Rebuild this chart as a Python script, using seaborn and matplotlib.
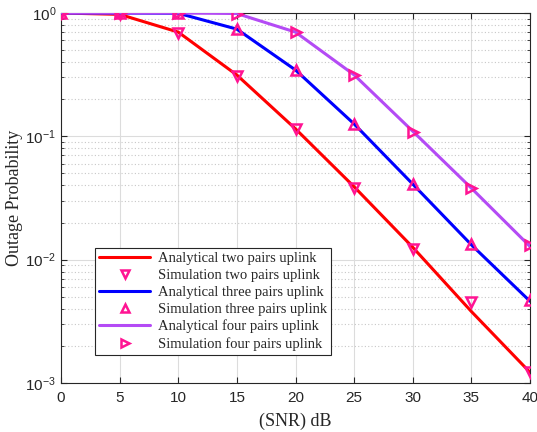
import numpy as np
import pandas as pd
import matplotlib
matplotlib.use("Agg")
import matplotlib.pyplot as plt
import seaborn as sns

snr = [0, 5, 10, 15, 20, 25, 30, 35, 40]
ana_two = [1.0, 0.975, 0.70, 0.314, 0.115, 0.039, 0.0126, 0.0038, 0.00122]
sim_two = [1.0, 0.975, 0.69, 0.31, 0.114, 0.038, 0.0121, 0.0045, 0.00122]
ana_three = [1.0, 1.0, 0.995, 0.74, 0.345, 0.126, 0.041, 0.0132, 0.0046]
sim_three = [1.0, 1.0, 0.995, 0.74, 0.345, 0.125, 0.041, 0.0133, 0.0047]
ana_four = [1.0, 1.0, 1.0, 0.99, 0.70, 0.315, 0.11, 0.038, 0.0128]
sim_four = [1.0, 1.0, 1.0, 0.99, 0.70, 0.315, 0.109, 0.038, 0.0131]

sns.set_style("ticks")
plt.rcParams['font.family'] = ['Liberation Sans', 'DejaVu Sans']

fig = plt.figure(figsize=(5.37, 4.32), dpi=100)
ax = fig.add_axes([61/537, 1 - 383/432, (530-61)/537, (383-13)/432])

pink = '#FF1493'
series = [
    (ana_two, sim_two, 'red', 'v', 'two'),
    (ana_three, sim_three, 'blue', '^', 'three'),
    (ana_four, sim_four, '#B44BF5', '>', 'four'),
]
for ana, sim, col, mk, name in series:
    df = pd.DataFrame({'snr': snr, 'ana': ana, 'sim': sim})
    sns.lineplot(data=df, x='snr', y='ana', ax=ax, color=col, lw=2.2,
                 label=f'Analytical {name} pairs uplink', zorder=3)
    ax.plot(df['snr'], df['sim'], linestyle='none', marker=mk, markersize=7,
            markerfacecolor='none', markeredgecolor=pink, markeredgewidth=1.8,
            label=f'Simulation {name} pairs uplink', zorder=4)

ax.set_yscale('log')
ax.set_xlim(0, 40)
ax.set_ylim(1e-3, 1)
ax.set_xticks(range(0, 41, 5))
ax.set_yticks([1e-3, 1e-2, 1e-1, 1])
ax.tick_params(axis='both', which='both', direction='in', top=True, right=True,
               labelsize=11, colors='#262626', length=4)
ax.tick_params(axis='x', pad=6)
ax.tick_params(axis='both', which='minor', length=2.5)
ax.grid(True, which='major', color='#DCDCDC', lw=0.8, ls='-')
ax.grid(True, which='minor', axis='y', color='#C8C8C8', lw=0.8, ls=(0, (1, 2)))
for s in ax.spines.values():
    s.set_color('#262626')
    s.set_linewidth(0.8)

serif = ['Liberation Serif', 'DejaVu Serif']
ax.set_xlabel('(SNR) dB', family=serif, fontsize=13, labelpad=5)
ax.set_ylabel('Outage Probability', family=serif, fontsize=13, labelpad=2)

leg = ax.legend(loc='lower left', bbox_to_anchor=(34/469, 28/370),
                prop={'family': serif, 'size': 10.5}, frameon=True,
                fancybox=False, edgecolor='#262626', framealpha=1,
                handlelength=3.5, labelspacing=0.25, borderpad=0.3,
                handletextpad=0.5, borderaxespad=0, markerscale=0.9)
leg.get_frame().set_linewidth(0.8)

fig.savefig('out.png', dpi=100)
